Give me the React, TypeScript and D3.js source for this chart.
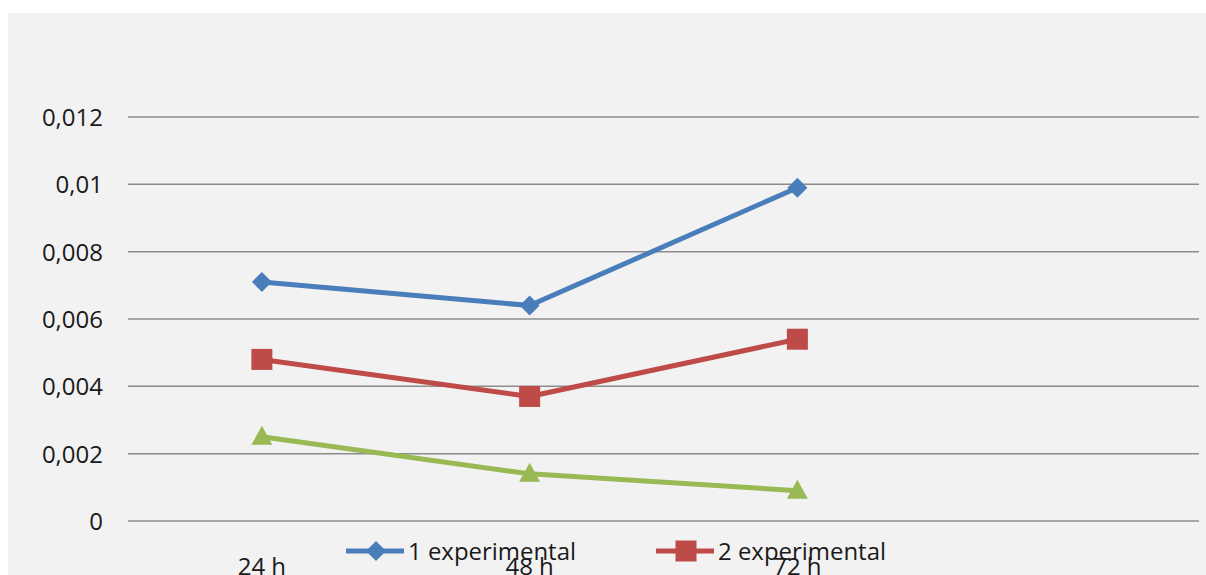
import React from "react";
import * as d3 from "d3";

const categories = ["24 h", "48 h", "72 h", ""];
const seriesNames = ["1 experimental", "2 experimental", "3"];
const series1 = [0.0071, 0.0064, 0.0099];
const series2 = [0.0048, 0.0037, 0.0054];
const series3 = [0.0025, 0.0014, 0.0009];
const yTicks = [0, 0.002, 0.004, 0.006, 0.008, 0.01, 0.012];
const yTickLabels = ["0", "0,002", "0,004", "0,006", "0,008", "0,01", "0,012"];
const colors = ["#4a7ebb", "#be4b48", "#98b954"];

const W = 1206;
const H = 575;
const FONT = "'Open Sans', 'DejaVu Sans', sans-serif";

function Marker({ kind, x, y, color }: { kind: number; x: number; y: number; color: string }) {
  if (kind === 0) {
    const r = 10;
    return <path d={`M${x},${y - r}L${x + r},${y}L${x},${y + r}L${x - r},${y}Z`} fill={color} />;
  }
  if (kind === 1) {
    return <rect x={x - 10.5} y={y - 10.5} width={21} height={21} fill={color} />;
  }
  return <path d={`M${x},${y - 11}L${x + 10.5},${y + 8}L${x - 10.5},${y + 8}Z`} fill={color} />;
}

export default function App() {
  const x = d3.scaleBand().domain(categories.map((c, i) => String(i))).range([128, 1199]);
  const y = d3.scaleLinear().domain([0, 0.012]).range([521, 117]);
  const all = [series1, series2, series3];
  const line = d3
    .line<number>()
    .x((_, i) => (x(String(i)) as number) + x.bandwidth() / 2)
    .y((d) => y(d));

  return (
    <svg
      width={W}
      height={H}
      style={{ position: "absolute", left: 0, top: 0, display: "block" }}
    >
      <rect x={0} y={0} width={W} height={H} fill="#ffffff" />
      <rect x={8} y={13} width={W - 8} height={H - 13} fill="#f2f2f2" />
      {yTicks.map((t, i) => (
        <g key={i}>
          <line x1={128} x2={1199} y1={y(t)} y2={y(t)} stroke="#8c8c8c" strokeWidth={1.5} />
          <text
            x={103}
            y={y(t) + 9}
            textAnchor="end"
            fontFamily={FONT}
            fontSize={24}
            fill="#1a1a1a"
          >
            {yTickLabels[i]}
          </text>
        </g>
      ))}
      {categories.map((c, i) => (
        <text
          key={i}
          x={(x(String(i)) as number) + x.bandwidth() / 2}
          y={575}
          textAnchor="middle"
          fontFamily={FONT}
          fontSize={24}
          fill="#1a1a1a"
        >
          {c}
        </text>
      ))}
      {all.map((s, k) => (
        <g key={k}>
          <path d={line(s) as string} fill="none" stroke={colors[k]} strokeWidth={5} strokeLinejoin="round" />
          {s.map((v, i) => (
            <Marker
              key={i}
              kind={k}
              x={(x(String(i)) as number) + x.bandwidth() / 2}
              y={y(v)}
              color={colors[k]}
            />
          ))}
        </g>
      ))}
      {[0, 1].map((k) => {
        const lx = k === 0 ? 346 : 656;
        const ly = 551;
        return (
          <g key={k}>
            <line x1={lx} x2={lx + 58} y1={ly} y2={ly} stroke={colors[k]} strokeWidth={5} />
            <Marker kind={k} x={lx + 30} y={ly} color={colors[k]} />
            <text
              x={lx + 62}
              y={ly + 9}
              fontFamily={FONT}
              fontSize={24}
              fill="#1a1a1a"
              textLength={168}
              lengthAdjust="spacingAndGlyphs"
            >
              {seriesNames[k]}
            </text>
          </g>
        );
      })}
    </svg>
  );
}
